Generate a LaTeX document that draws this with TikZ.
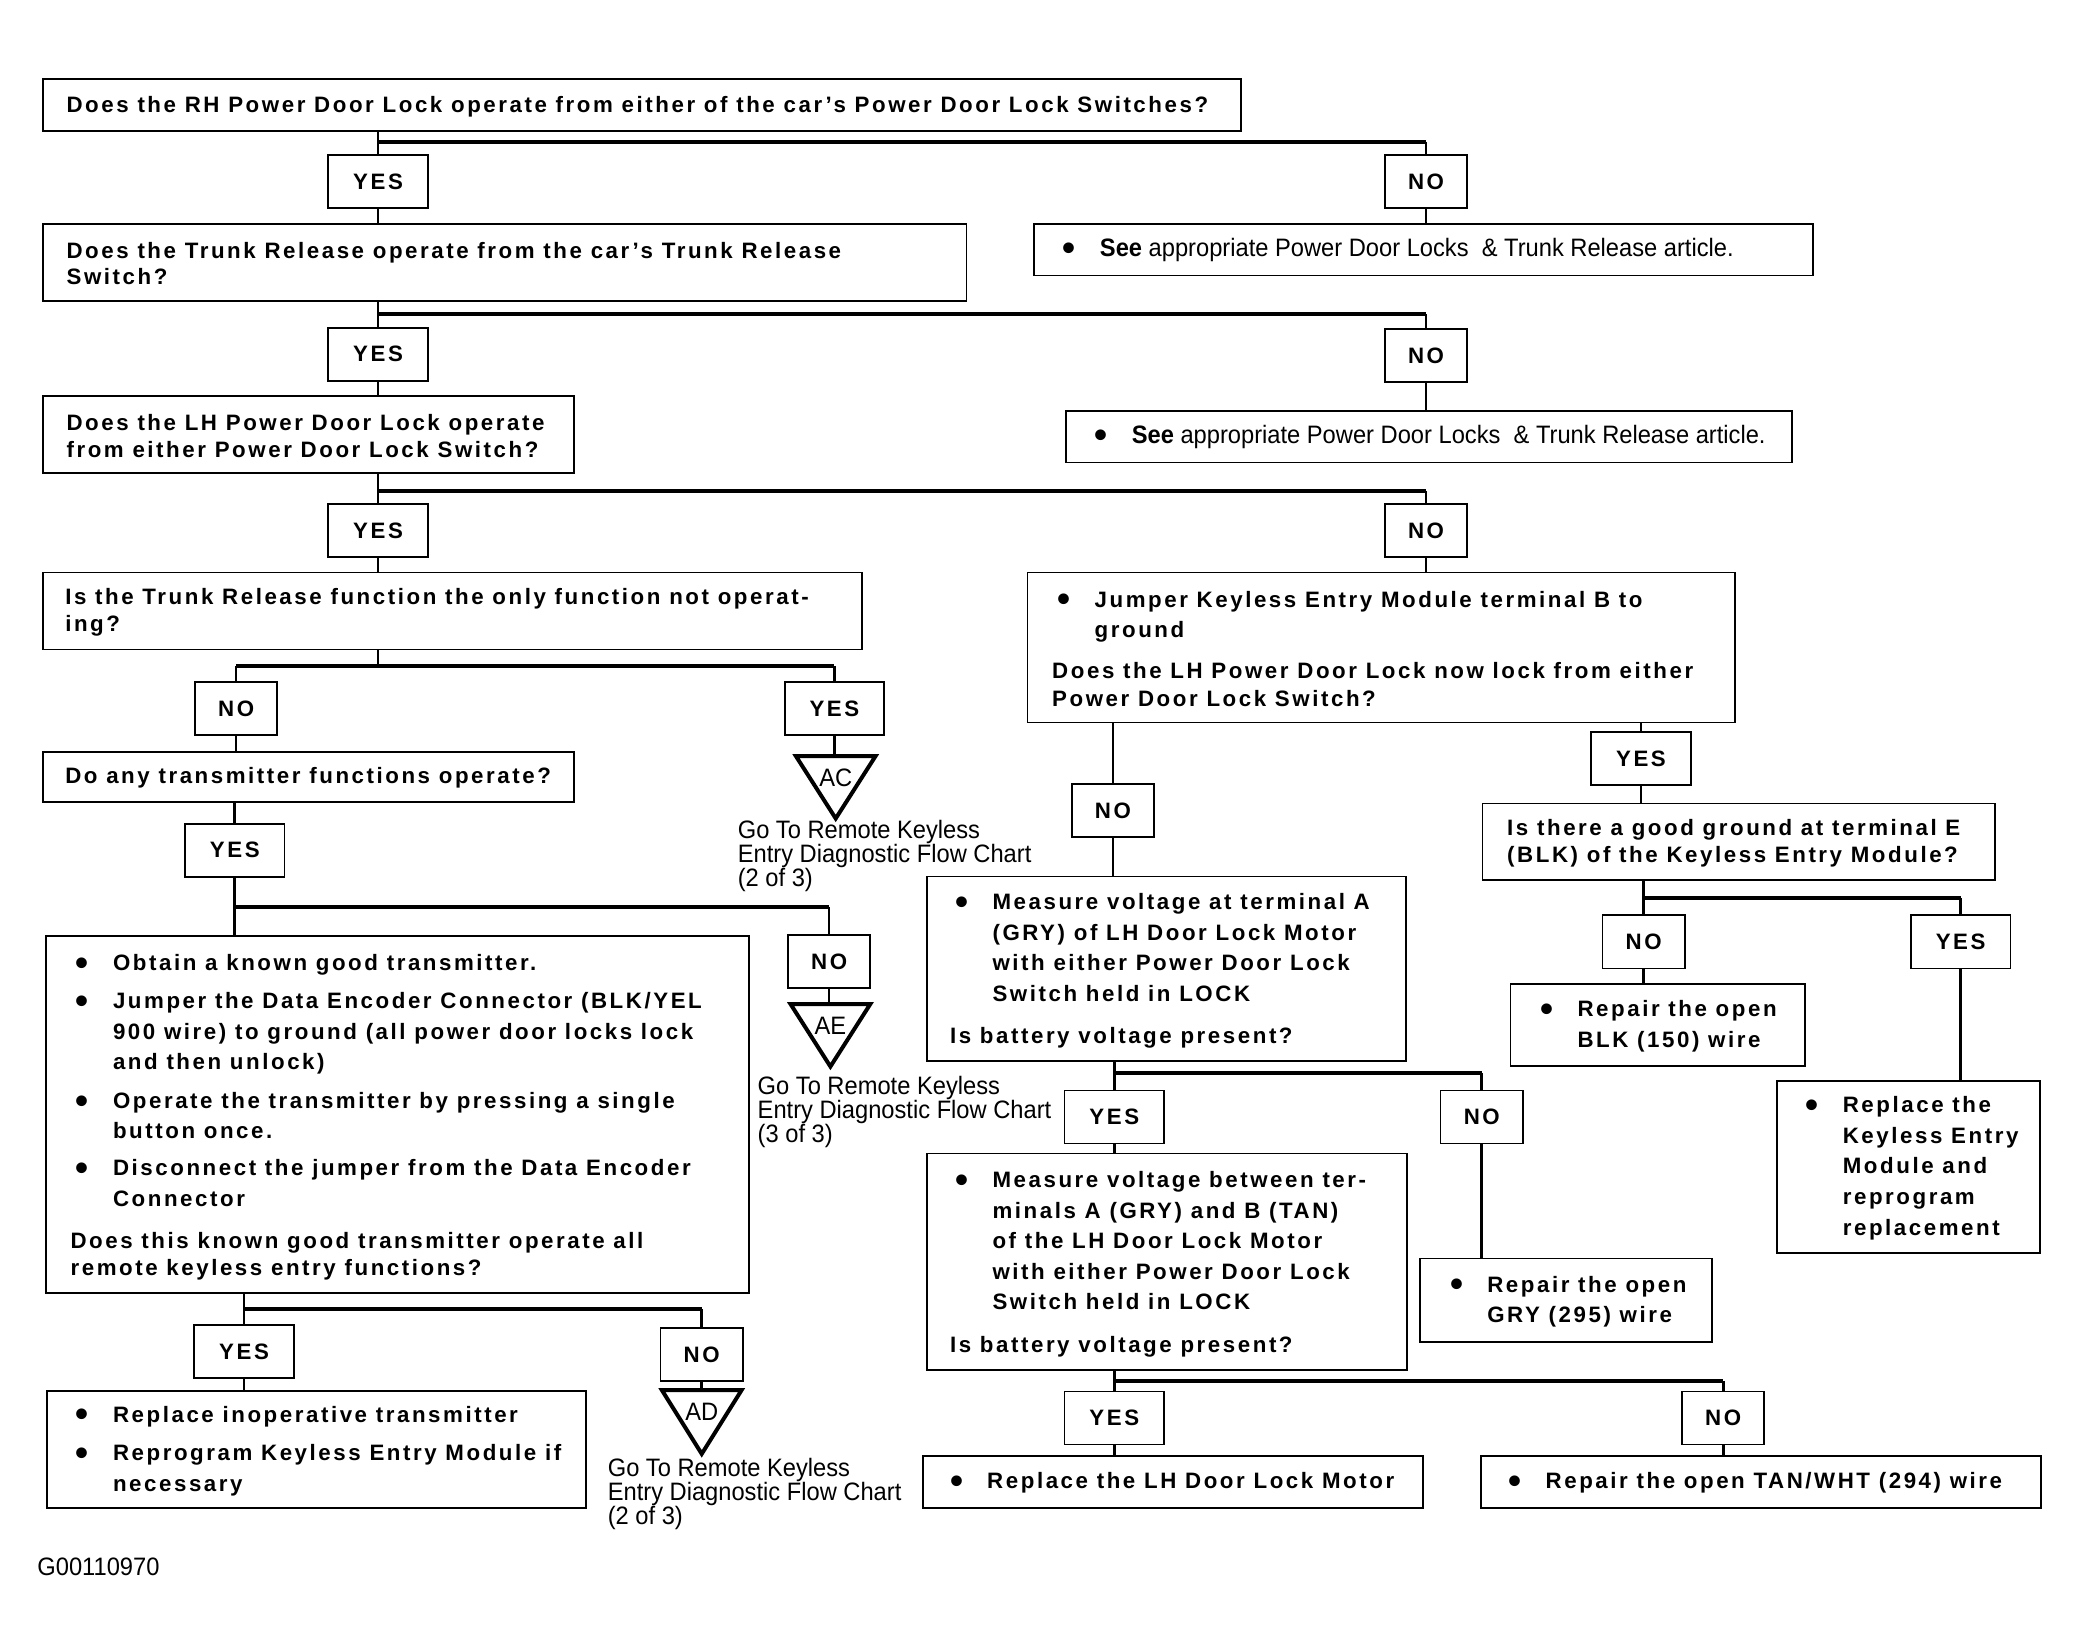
\documentclass[tikz,border=0pt]{standalone}
\usepackage{fontspec}
\setmainfont{Liberation Sans}
\newfontfamily\bfont[LetterSpace=11.5]{Liberation Sans}
\newfontfamily\nfont[FakeStretch=0.94]{Liberation Sans}
\usetikzlibrary{calc}
\newcommand\bt{\bfont\bfseries\fontsize{16.8}{20}\selectfont}
\newcommand\btb{\bfont\bfseries\fontsize{16.8}{23}\selectfont}
\newcommand\nt{\nfont\fontsize{19}{18}\selectfont\lineskiplimit=-50pt\lineskip=0pt}
\newcommand\bigdot{{\fontsize{28}{0}\selectfont\raisebox{-3.6pt}{\textbullet}}}
\newcommand\bul{\hspace*{4pt}\makebox[28pt][l]{\bigdot}}
\newcommand\ind{\hspace*{32pt}}
\begin{document}
\begin{tikzpicture}[x=1pt,y=-1pt,
 box/.style={draw, line width=1.3pt, anchor=north west, inner sep=0pt},
 txt/.style={anchor=west, inner sep=0pt, align=left, font=\bt},
 btxt/.style={anchor=west, inner sep=0pt, align=left, font=\btb},
 yn/.style={draw, line width=1.3pt, minimum height=40pt, inner sep=0pt, font=\bt},
 yes/.style={yn, minimum width=75pt},
 no/.style={yn, minimum width=62pt},
 vl/.style={line width=2pt},
 hl/.style={line width=3pt},
 tri/.style={line width=3pt, line join=miter},
 lab/.style={inner sep=0pt, font=\nt, align=left, anchor=west},
 tlab/.style={inner sep=0pt, font=\nfont\fontsize{19}{19}\selectfont},
]
\fill[white] (0,0) rectangle (1568,1244);
\useasboundingbox (0,0) rectangle (1568,1244);

% ---------- left column ----------
\node[box, minimum width=903pt, minimum height=39pt] (B1) at (32,59) {};
\node[txt] (B1t) at ($(B1.west)+(18,1)$) {Does the RH Power Door Lock operate from either of the car’s Power Door Lock Switches?};
\node[yes] (Y1) at (285,137) {YES};
\node[no] (N1) at (1075,137) {NO};
\node[box, minimum width=696pt, minimum height=58pt] (B2) at (32,168) {};
\node[txt] (B2t) at ($(B2.west)+(18,1)$) {Does the Trunk Release operate from the car’s Trunk Release\\Switch?};
\node[box, minimum width=587pt, minimum height=39pt] (S1) at (779,168) {};
\node[lab] (S1t) at ($(S1.west)+(18,0)$) {{\bt\bul}\textbf{See} appropriate Power Door Locks\ \ \& Trunk Release article.};

\node[yes] (Y2) at (285,267) {YES};
\node[no] (N2) at (1075,268) {NO};
\node[box, minimum width=400pt, minimum height=58pt] (B3) at (32,298) {};
\node[txt] (B3t) at ($(B3.west)+(18,1)$) {Does the LH Power Door Lock operate\\from either Power Door Lock Switch?};
\node[box, minimum width=547pt, minimum height=39pt] (S2) at (803,309) {};
\node[lab] (S2t) at ($(S2.west)+(18,0)$) {{\bt\bul}\textbf{See} appropriate Power Door Locks\ \ \& Trunk Release article.};

\node[yes] (Y3) at (285,400) {YES};
\node[no] (N3) at (1075,400) {NO};
\node[box, minimum width=617pt, minimum height=58pt] (B4) at (32,431) {};
\node[txt] (B4t) at ($(B4.west)+(17,1)$) {Is the Trunk Release function the only function not operat-\\ing?};
\node[box, minimum width=533pt, minimum height=113pt] (B5) at (774,431) {};
\node[btxt] (B5t) at ($(B5.west)+(19,1)$) {\bul Jumper Keyless Entry Module terminal B to\\\ind ground\\[8pt]Does the LH Power Door Lock now lock from either\\[-2pt]Power Door Lock Switch?};

\node[no] (N4) at (178,534) {NO};
\node[yes] (Y4) at (629,534) {YES};
\node[box, minimum width=400pt, minimum height=38pt] (B6) at (32,566) {};
\node[txt] (B6t) at ($(B6.west)+(17,1)$) {Do any transmitter functions operate?};
\coordinate (T1) at (630,570);
\node[yes] (Y5) at (177,641) {YES};
\node[no] (N5) at (625,725) {NO};
\coordinate (T2) at (626,757);
\node[box, minimum width=530pt, minimum height=269pt] (B7) at (34,705) {};
\node[btxt] (B7t) at ($(B7.west)+(19,2)$) {\bul Obtain a known good transmitter.\\[6pt]
\bul Jumper the Data Encoder Connector (BLK/YEL\\
\ind 900 wire) to ground (all power door locks lock\\
\ind and then unlock)\\[6pt]
\bul Operate the transmitter by pressing a single\\
\ind button once.\\[5pt]
\bul Disconnect the jumper from the Data Encoder\\
\ind Connector\\[9pt]
Does this known good transmitter operate all\\[-3pt]
remote keyless entry functions?};
\node[yes] (Y6) at (184,1019) {YES};
\node[no] (N6) at (529,1021) {NO};
\coordinate (T3) at (529,1048);
\node[box, minimum width=406pt, minimum height=88pt] (B8) at (35,1048) {};
\node[btxt] (B8t) at ($(B8.west)+(18,1)$) {\bul Replace inoperative transmitter\\[6pt]\bul Reprogram Keyless Entry Module if\\\ind necessary};

% ---------- right column ----------
\node[no] (N7) at (839,611) {NO};
\node[yes] (Y7) at (1237,572) {YES};
\node[box, minimum width=386pt, minimum height=58pt] (B9) at (1117,605) {};
\node[txt] (B9t) at ($(B9.west)+(19,1)$) {Is there a good ground at terminal E\\(BLK) of the Keyless Entry Module?};
\node[no] (N8) at (1239,710) {NO};
\node[yes] (Y8) at (1478,710) {YES};
\node[box, minimum width=222pt, minimum height=62pt] (B10) at (1138,741) {};
\node[btxt] (B10t) at ($(B10.west)+(19,1)$) {\bul Repair the open\\\ind BLK (150) wire};
\node[box, minimum width=198pt, minimum height=130pt] (B11) at (1339,814) {};
\node[btxt] (B11t) at ($(B11.west)+(18,1)$) {\bul Replace the\\\ind Keyless Entry\\\ind Module and\\\ind reprogram\\\ind replacement};
\node[box, minimum width=361pt, minimum height=139pt] (B12) at (698,660) {};
\node[btxt] (B12t) at ($(B12.west)+(18,2)$) {\bul Measure voltage at terminal A\\\ind (GRY) of LH Door Lock Motor\\\ind with either Power Door Lock\\\ind Switch held in LOCK\\[9pt]Is battery voltage present?};
\node[yes] (Y9) at (840,842) {YES};
\node[no] (N9) at (1117,842) {NO};
\node[box, minimum width=362pt, minimum height=163pt] (B13) at (698,869) {};
\node[btxt] (B13t) at ($(B13.west)+(18,2)$) {\bul Measure voltage between ter-\\\ind minals A (GRY) and B (TAN)\\\ind of the LH Door Lock Motor\\\ind with either Power Door Lock\\\ind Switch held in LOCK\\[9pt]Is battery voltage present?};
\node[box, minimum width=220pt, minimum height=63pt] (B14) at (1070,948) {};
\node[btxt] (B14t) at ($(B14.west)+(19,1)$) {\bul Repair the open\\\ind GRY (295) wire};
\node[yes] (Y10) at (840,1069) {YES};
\node[no] (N10) at (1299,1069) {NO};
\node[box, minimum width=377pt, minimum height=39pt] (B15) at (695,1097) {};
\node[btxt] (B15t) at ($(B15.west)+(17,1)$) {\bul Replace the LH Door Lock Motor};
\node[box, minimum width=422pt, minimum height=39pt] (B16) at (1116,1097) {};
\node[btxt] (B16t) at ($(B16.west)+(17,1)$) {\bul Repair the open TAN/WHT (294) wire};

% ---------- off-page connectors ----------
\draw[tri, shift={(T1)}] (-30,0) -- (30,0) -- (0,47) -- cycle;
\node[tlab] (T1l) at ($(T1)+(0,16)$) {AC};
\node[lab] (T1g) at (556,645) {Go To Remote Keyless\\Entry Diagnostic Flow Chart\\(2 of 3)};
\draw[tri, shift={(T2)}] (-30,0) -- (30,0) -- (0,47) -- cycle;
\node[tlab] (T2l) at ($(T2)+(0,16)$) {AE};
\node[lab] (T2g) at (571,838) {Go To Remote Keyless\\Entry Diagnostic Flow Chart\\(3 of 3)};
\draw[tri, shift={(T3)}] (-30,0) -- (30,0) -- (0,48) -- cycle;
\node[tlab] (T3l) at ($(T3)+(0,16)$) {AD};
\node[lab] (T3g) at (458,1126) {Go To Remote Keyless\\Entry Diagnostic Flow Chart\\(2 of 3)};

\node[lab] (G) at (28,1181) {G00110970};

% ---------- connectors ----------
\coordinate (h1) at (0,107);
\coordinate (h2) at (0,237);
\coordinate (h3) at (0,370);
\coordinate (h4) at (0,502);
\coordinate (h5) at (0,684);
\coordinate (h6) at (0,987);
\coordinate (h7) at (0,677);
\coordinate (h8) at (0,809);
\coordinate (h9) at (0,1041);

\draw[vl] (B1.south -| Y1) -- (Y1.north);
\draw[hl] (h1 -| Y1) -- (h1 -| N1);
\draw[vl] (h1 -| N1) -- (N1.north);
\draw[vl] (Y1.south) -- (Y1.south |- B2.north);
\draw[vl] (N1.south) -- (N1.south |- S1.north);

\draw[vl] (B2.south -| Y2) -- (Y2.north);
\draw[hl] (h2 -| Y2) -- (h2 -| N2);
\draw[vl] (h2 -| N2) -- (N2.north);
\draw[vl] (Y2.south) -- (Y2.south |- B3.north);
\draw[vl] (N2.south) -- (N2.south |- S2.north);

\draw[vl] (B3.south -| Y3) -- (Y3.north);
\draw[hl] (h3 -| Y3) -- (h3 -| N3);
\draw[vl] (h3 -| N3) -- (N3.north);
\draw[vl] (Y3.south) -- (Y3.south |- B4.north);
\draw[vl] (N3.south) -- (N3.south |- B5.north);

\draw[vl] (B4.south -| Y3) -- (h4 -| Y3);
\draw[hl] (h4 -| N4) -- (h4 -| Y4);
\draw[vl] (h4 -| N4) -- (N4.north);
\draw[vl] (h4 -| Y4) -- (Y4.north);
\draw[vl] (N4.south) -- (N4.south |- B6.north);
\draw[vl] (Y4.south) -- (Y4.south |- T1);

\draw[vl] (B6.south -| Y5) -- (Y5.north);
\draw[vl] (Y5.south) -- (Y5.south |- B7.north);
\draw[hl] (h5 -| Y5) -- (h5 -| N5);
\draw[vl] (h5 -| N5) -- (N5.north);
\draw[vl] (N5.south) -- (N5.south |- T2);

\draw[vl] (B7.south -| Y6) -- (Y6.north);
\draw[hl] (h6 -| Y6) -- (h6 -| N6);
\draw[vl] (h6 -| N6) -- (N6.north);
\draw[vl] (Y6.south) -- (Y6.south |- B8.north);
\draw[vl] (N6.south) -- (N6.south |- T3);

\draw[vl] (B5.south -| N7) -- (N7.north);
\draw[vl] (N7.south) -- (N7.south |- B12.north);
\draw[vl] (B5.south -| Y7) -- (Y7.north);
\draw[vl] (Y7.south) -- (Y7.south |- B9.north);

\draw[vl] (B9.south -| N8) -- (N8.north);
\draw[hl] (h7 -| N8) -- (h7 -| Y8);
\draw[vl] (h7 -| Y8) -- (Y8.north);
\draw[vl] (N8.south) -- (N8.south |- B10.north);
\draw[vl] (Y8.south) -- (Y8.south |- B11.north);

\draw[vl] (B12.south -| Y9) -- (Y9.north);
\draw[hl] (h8 -| Y9) -- (h8 -| N9);
\draw[vl] (h8 -| N9) -- (N9.north);
\draw[vl] (Y9.south) -- (Y9.south |- B13.north);
\draw[vl] (N9.south) -- (N9.south |- B14.north);

\draw[vl] (B13.south -| Y10) -- (Y10.north);
\draw[hl] (h9 -| Y10) -- (h9 -| N10);
\draw[vl] (h9 -| N10) -- (N10.north);
\draw[vl] (Y10.south) -- (Y10.south |- B15.north);
\draw[vl] (N10.south) -- (N10.south |- B16.north);
\end{tikzpicture}
\end{document}
